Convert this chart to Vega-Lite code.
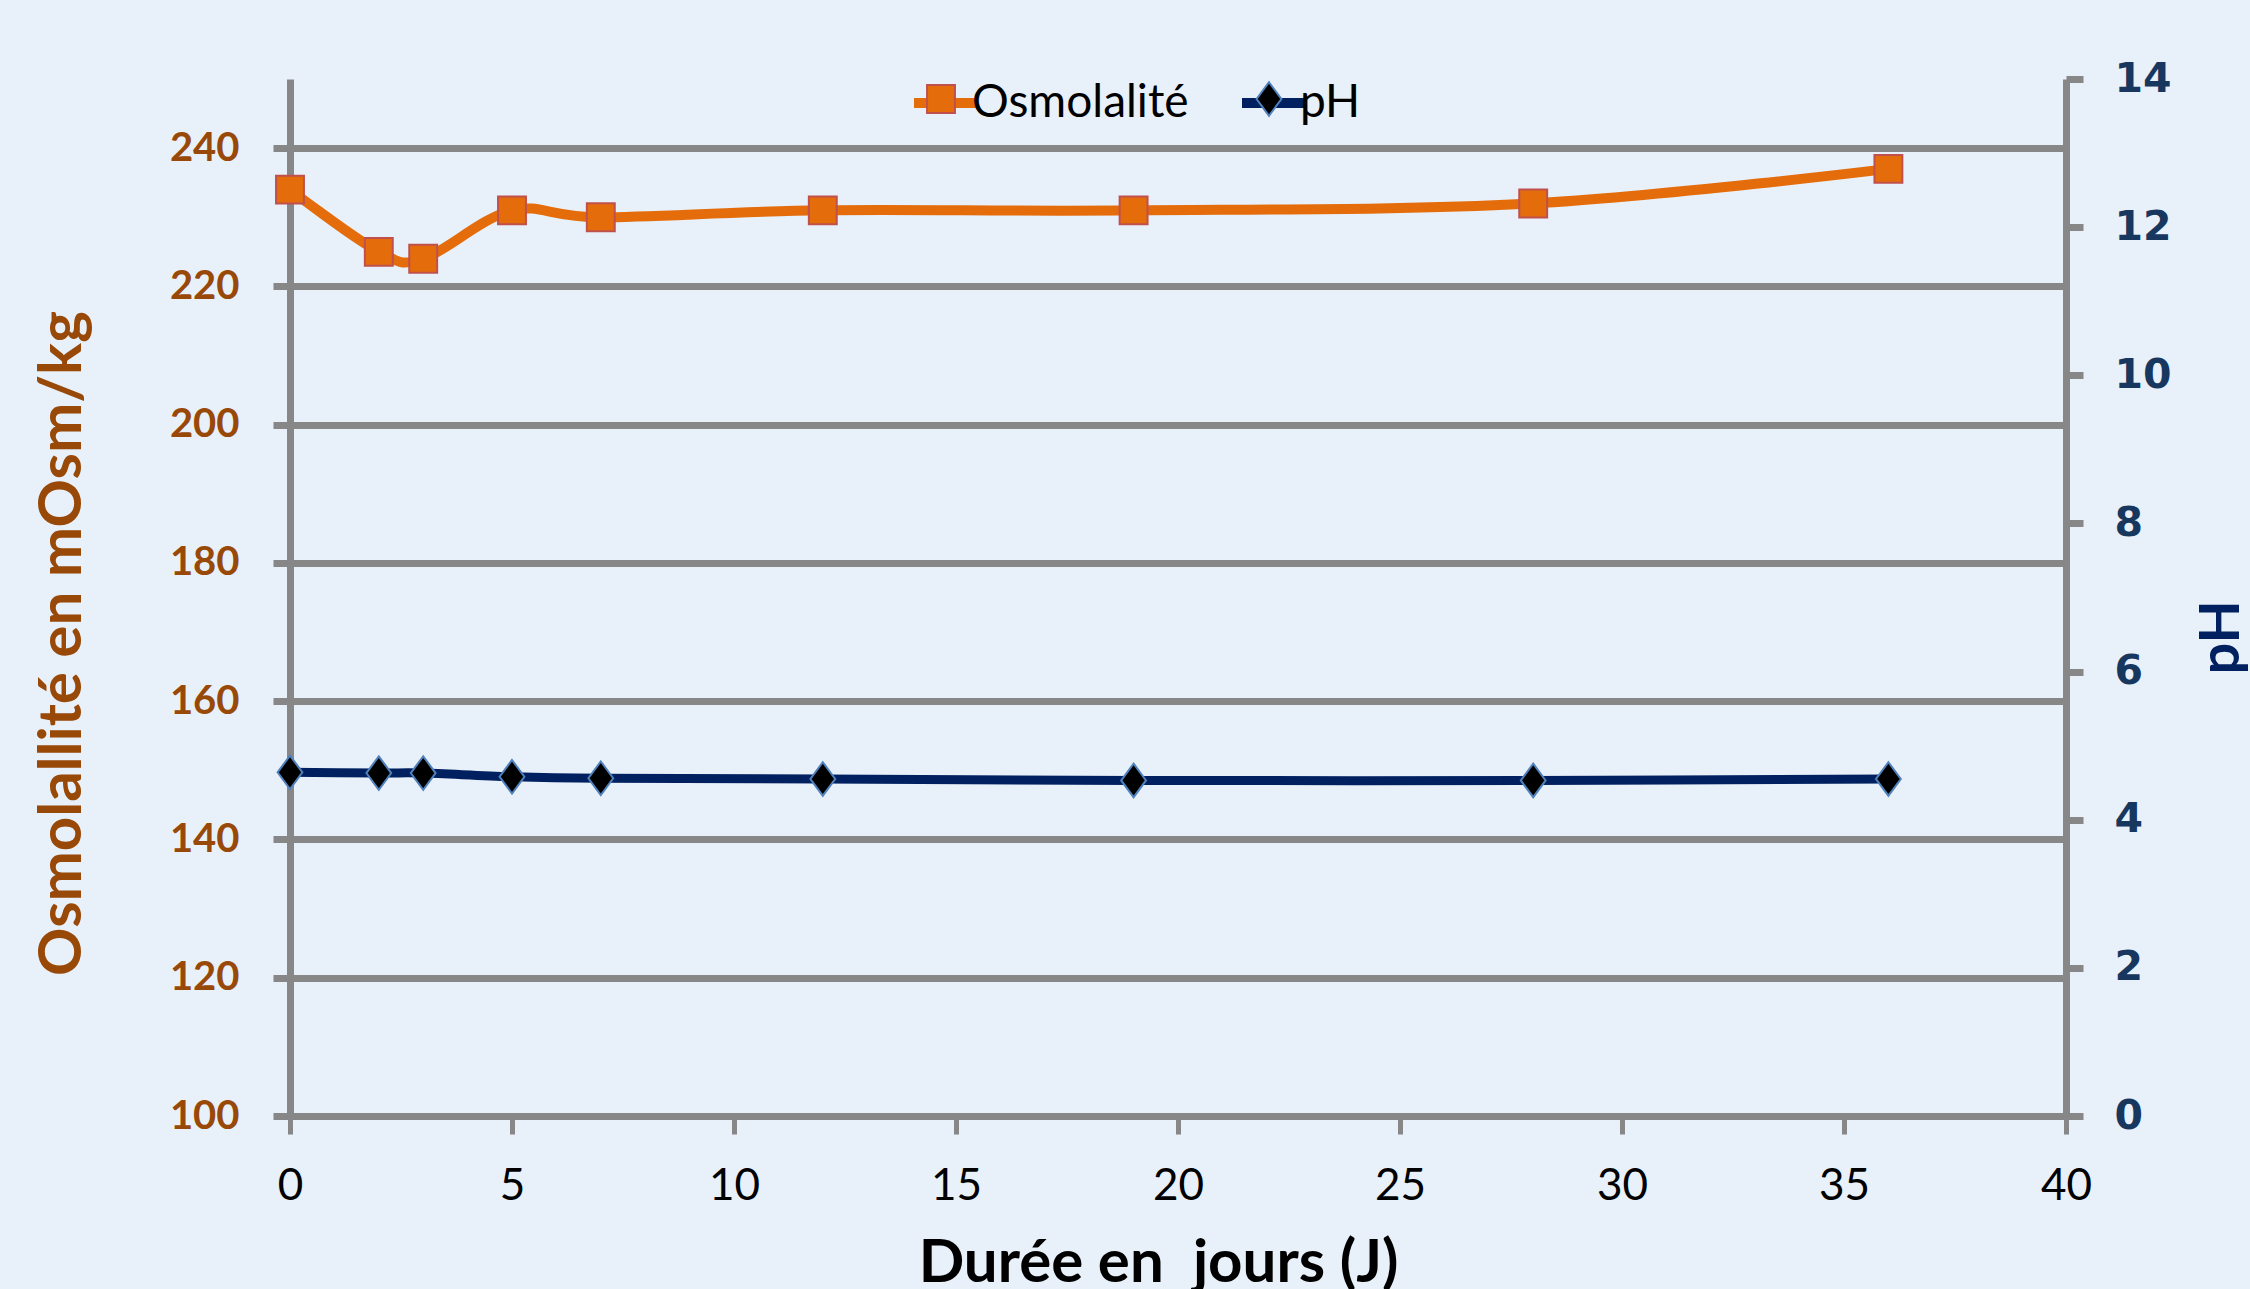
{
  "$schema": "https://vega.github.io/schema/vega-lite/v6.json",
  "autosize": {"type": "none"},
  "width": 1776,
  "height": 1037,
  "padding": {"left": 290, "top": 79, "right": 184, "bottom": 173},
  "background": "#E8F0F9",
  "config": {
    "view": {"stroke": null},
    "axis": {
      "domainColor": "#878787",
      "domainWidth": 7,
      "tickColor": "#878787",
      "tickWidth": 7,
      "tickSize": 17,
      "gridColor": "#878787",
      "gridWidth": 7
    },
    "legend": {
      "labelFont": "Lato",
      "labelFontSize": 46,
      "labelColor": "#000000",
      "labelLimit": 600
    }
  },
  "data": {
    "values": [
      {"jour": 0, "serie": "Osmolalité", "valeur": 234},
      {"jour": 2, "serie": "Osmolalité", "valeur": 225},
      {"jour": 3, "serie": "Osmolalité", "valeur": 224},
      {"jour": 5, "serie": "Osmolalité", "valeur": 231},
      {"jour": 7, "serie": "Osmolalité", "valeur": 230},
      {"jour": 12, "serie": "Osmolalité", "valeur": 231},
      {"jour": 19, "serie": "Osmolalité", "valeur": 231},
      {"jour": 28, "serie": "Osmolalité", "valeur": 232},
      {"jour": 36, "serie": "Osmolalité", "valeur": 237},
      {"jour": 0, "serie": "pH", "valeur": 4.64},
      {"jour": 2, "serie": "pH", "valeur": 4.63},
      {"jour": 3, "serie": "pH", "valeur": 4.63},
      {"jour": 5, "serie": "pH", "valeur": 4.58},
      {"jour": 7, "serie": "pH", "valeur": 4.56},
      {"jour": 12, "serie": "pH", "valeur": 4.55},
      {"jour": 19, "serie": "pH", "valeur": 4.53},
      {"jour": 28, "serie": "pH", "valeur": 4.53},
      {"jour": 36, "serie": "pH", "valeur": 4.55}
    ]
  },
  "encoding": {
    "x": {
      "field": "jour",
      "type": "quantitative",
      "scale": {"domain": [0, 40], "nice": false},
      "axis": {
        "values": [0, 5, 10, 15, 20, 25, 30, 35, 40],
        "grid": false,
        "tickWidth": 5,
        "tickSize": 18,
        "labelFlush": false,
        "labelFont": "Lato",
        "labelFontSize": 44,
        "labelColor": "#000000",
        "labelPadding": 30,
        "title": "Durée en\u00a0 jours (J)",
        "titleFont": "Lato",
        "titleFontSize": 60,
        "titleFontWeight": "bold",
        "titleColor": "#000000",
        "titleAlign": "center",
        "titleBaseline": "alphabetic",
        "titleX": 868,
        "titleY": 165
      }
    }
  },
  "layer": [
    {
      "transform": [{"filter": "datum.serie === 'Osmolalité'"}],
      "encoding": {
        "y": {
          "field": "valeur",
          "type": "quantitative",
          "scale": {"domain": [100, 250], "nice": false, "zero": false},
          "axis": {
            "orient": "left",
            "values": [100, 120, 140, 160, 180, 200, 220, 240],
            "grid": true,
            "labelFont": "Lato",
            "labelFontSize": 40,
            "labelFontWeight": "bold",
            "labelColor": "#984807",
            "labelPadding": 34,
            "title": "Osmolallité en mOsm/kg",
            "titleFont": "Lato",
            "titleFontSize": 60,
            "titleFontWeight": "bold",
            "titleColor": "#984807",
            "titleAngle": -90,
            "titleAlign": "center",
            "titleBaseline": "alphabetic",
            "titleX": -210,
            "titleY": 564
          }
        }
      },
      "layer": [
        {
          "mark": {"type": "line", "strokeWidth": 10, "interpolate": "cardinal", "tension": 0},
          "encoding": {
            "color": {
              "field": "serie",
              "type": "nominal",
              "scale": {"domain": ["Osmolalité", "pH"], "range": ["#E46C0A", "#002060"]},
              "legend": {
                "orient": "none",
                "direction": "horizontal",
                "legendX": 619,
                "legendY": -12,
                "title": null,
                "symbolType": "stroke",
                "symbolSize": 3844,
                "symbolStrokeWidth": 10,
                "labelOffset": -9,
                "columnPadding": 33,
                "zindex": 0
              }
            }
          }
        },
        {
          "mark": {"type": "point", "filled": true, "size": 3844, "strokeWidth": 2, "opacity": 1},
          "encoding": {
            "fill": {
              "field": "serie",
              "type": "nominal",
              "scale": {"range": ["#E46C0A", "#000000"]},
              "legend": {
                "orient": "none",
                "direction": "horizontal",
                "legendX": 619,
                "legendY": -12,
                "title": null,
                "symbolSize": 3844,
                "symbolStrokeWidth": 2,
                "labelOffset": 2,
                "columnPadding": 45,
                "labelOpacity": 0,
                "zindex": 1
              }
            },
            "stroke": {
              "field": "serie",
              "type": "nominal",
              "scale": {"range": ["#C0504D", "#4F81BD"]},
              "legend": {
                "orient": "none",
                "direction": "horizontal",
                "legendX": 619,
                "legendY": -12,
                "title": null,
                "symbolSize": 3844,
                "symbolStrokeWidth": 2,
                "labelOffset": 2,
                "columnPadding": 45,
                "labelOpacity": 0,
                "zindex": 1
              }
            },
            "shape": {
              "field": "serie",
              "type": "nominal",
              "scale": {"range": ["M-0.45,-0.45H0.45V0.45H-0.45Z", "M0,-0.54L0.4,0L0,0.54L-0.4,0Z"]},
              "legend": {
                "orient": "none",
                "direction": "horizontal",
                "legendX": 619,
                "legendY": -12,
                "title": null,
                "symbolSize": 3844,
                "symbolStrokeWidth": 2,
                "labelOffset": 2,
                "columnPadding": 45,
                "labelOpacity": 0,
                "zindex": 1
              }
            }
          }
        }
      ]
    },
    {
      "transform": [{"filter": "datum.serie === 'pH'"}],
      "encoding": {
        "y": {
          "field": "valeur",
          "type": "quantitative",
          "scale": {"domain": [0, 14], "nice": false},
          "axis": {
            "orient": "right",
            "values": [0, 2, 4, 6, 8, 10, 12, 14],
            "grid": false,
            "labelFont": "DejaVu Sans",
            "labelFontSize": 41,
            "labelFontWeight": "bold",
            "labelColor": "#17375E",
            "labelPadding": 31,
            "title": "pH",
            "titleFont": "Lato",
            "titleFontSize": 56,
            "titleFontWeight": "bold",
            "titleColor": "#002060",
            "titleAngle": -90,
            "titleAlign": "center",
            "titleBaseline": "alphabetic",
            "titleX": 172,
            "titleY": 558
          }
        }
      },
      "layer": [
        {
          "mark": {"type": "line", "strokeWidth": 9, "interpolate": "cardinal", "tension": 0},
          "encoding": {
            "color": {
              "field": "serie",
              "type": "nominal",
              "scale": {"domain": ["Osmolalité", "pH"], "range": ["#E46C0A", "#002060"]}
            }
          }
        },
        {
          "mark": {"type": "point", "filled": true, "size": 3844, "strokeWidth": 2, "opacity": 1},
          "encoding": {
            "fill": {"field": "serie", "type": "nominal"},
            "stroke": {"field": "serie", "type": "nominal"},
            "shape": {"field": "serie", "type": "nominal"}
          }
        }
      ]
    }
  ],
  "resolve": {"scale": {"y": "independent"}}
}
